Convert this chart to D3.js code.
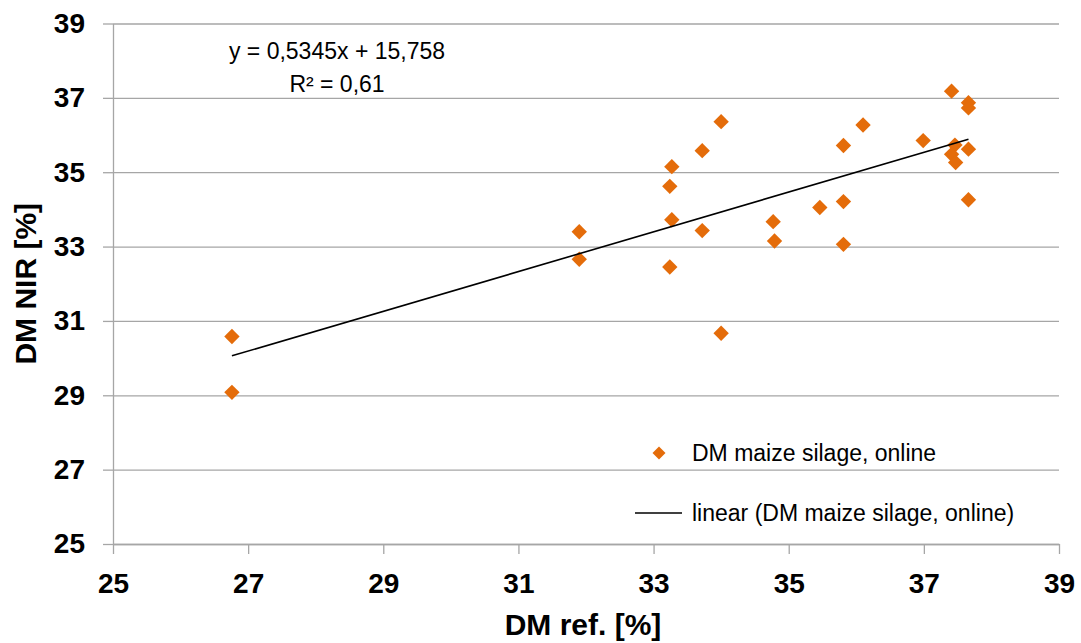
<!DOCTYPE html>
<html>
<head>
<meta charset="utf-8">
<script src="https://cdn.jsdelivr.net/npm/d3@7"></script>
<style>
  body { margin: 0; background: #fff; }
  svg { display: block; }
</style>
</head>
<body>
<svg id="chart"></svg>
<script>
var width = 1081,
    height = 643,
    margin = { top: 23.5, right: 22, bottom: 99, left: 113 }

// DM reference (x) and DM NIR online (y)
var dmRef = [26.76, 26.76, 31.90, 31.90, 33.27, 33.24, 33.27, 33.24, 33.72, 33.72,
             34.00, 34.00, 34.77, 34.79, 35.46, 35.81, 35.81, 35.81, 36.10, 36.99,
             37.41, 37.66, 37.66, 37.46, 37.66, 37.41, 37.47, 37.66]
var dmNir = [30.58, 29.08, 33.40, 32.66, 35.15, 34.62, 33.72, 32.45, 35.58, 33.43,
             36.36, 30.67, 33.67, 33.15, 34.05, 35.72, 34.21, 33.06, 36.27, 35.85,
             37.18, 36.87, 36.73, 35.73, 35.62, 35.48, 35.26, 34.26]

// linear trend as printed on the chart
var slope = 0.5345,
    intercept = 15.758
var equationLines = ["y = 0,5345x + 15,758", "R\u00b2 = 0,61"]

var xTicks = [25, 27, 29, 31, 33, 35, 37, 39]
var yTicks = [25, 27, 29, 31, 33, 35, 37, 39]
var seriesName = "DM maize silage, online"
var trendName = "linear (DM maize silage, online)"
var xTitle = "DM ref. [%]"
var yTitle = "DM NIR [%]"

var orange = "#e46c0a",
    gridColor = "#a6a6a6"

var svg = d3.select("#chart").attr("width", width).attr("height", height)
svg.append("rect").attr("width", width).attr("height", height).attr("fill", "#fff")

var innerW = width - margin.left - margin.right,
    innerH = height - margin.top - margin.bottom

var x = d3.scaleLinear().domain([25, 39]).range([0, innerW])
var y = d3.scaleLinear().domain([25, 39]).range([innerH, 0])

var g = svg.append("g").attr("transform", "translate(" + margin.left + "," + margin.top + ")")

// horizontal grid lines
g.append("g")
    .attr("class", "grid")
    .call(d3.axisLeft(y).tickValues(yTicks).tickSize(-innerW).tickFormat(""))
    .call(function(a) {
        a.select(".domain").remove()
        a.selectAll("line").attr("stroke", gridColor).attr("stroke-width", 1.3)
    })

// y axis
g.append("g")
    .call(d3.axisLeft(y).tickValues(yTicks).tickSize(10).tickSizeOuter(0).tickPadding(18))
    .call(function(a) {
        a.select(".domain").attr("stroke", gridColor).attr("stroke-width", 1.3)
        a.selectAll("line").attr("stroke", gridColor).attr("stroke-width", 1.3)
        a.selectAll("text")
            .attr("font-family", "Liberation Sans, Arial, sans-serif")
            .attr("font-weight", "bold")
            .attr("font-size", 28)
            .attr("fill", "#000")
    })

// x axis
g.append("g")
    .attr("transform", "translate(0," + innerH + ")")
    .call(d3.axisBottom(x).tickValues(xTicks).tickSize(10).tickSizeOuter(0).tickPadding(19))
    .call(function(a) {
        a.select(".domain").attr("stroke", gridColor).attr("stroke-width", 1.3)
        a.selectAll("line").attr("stroke", gridColor).attr("stroke-width", 1.3)
        a.selectAll("text")
            .attr("font-family", "Liberation Sans, Arial, sans-serif")
            .attr("font-weight", "bold")
            .attr("font-size", 28)
            .attr("fill", "#000")
    })

// axis titles
svg.append("text")
    .attr("x", 583)
    .attr("y", 635)
    .attr("text-anchor", "middle")
    .attr("font-family", "Liberation Sans, Arial, sans-serif")
    .attr("font-weight", "bold")
    .attr("font-size", 30)
    .text(xTitle)

svg.append("text")
    .attr("transform", "translate(36," + (margin.top + y(32)) + ") rotate(-90)")
    .attr("text-anchor", "middle")
    .attr("font-family", "Liberation Sans, Arial, sans-serif")
    .attr("font-weight", "bold")
    .attr("font-size", 30)
    .text(yTitle)

// points
var points = dmRef.map(function(d, i) { return { x: d, y: dmNir[i] } })
var diamond = d3.symbol().type(d3.symbolSquare).size(118)

g.selectAll(".pt")
    .data(points)
    .enter()
    .append("path")
    .attr("class", "pt")
    .attr("d", diamond)
    .attr("transform", function(d) {
        return "translate(" + x(d.x) + "," + y(d.y) + ") rotate(45)"
    })
    .attr("fill", orange)

// trend line across the data range
var xExt = d3.extent(dmRef)
var trend = xExt.map(function(v) { return [v, slope * v + intercept] })
g.append("path")
    .datum(trend)
    .attr("d", d3.line().x(function(d) { return x(d[0]) }).y(function(d) { return y(d[1]) }))
    .attr("stroke", "#000")
    .attr("stroke-width", 1.6)
    .attr("fill", "none")

// equation label
var eq = svg.append("text")
    .attr("text-anchor", "middle")
    .attr("font-family", "Liberation Sans, Arial, sans-serif")
    .attr("font-size", 23)
    .attr("fill", "#000")
eq.selectAll("tspan")
    .data(equationLines)
    .enter()
    .append("tspan")
    .attr("x", 337)
    .attr("y", function(d, i) { return 59 + i * 32.5 })
    .text(function(d) { return d })

// legend
var legend = svg.append("g")
    .attr("font-family", "Liberation Sans, Arial, sans-serif")
    .attr("font-size", 23)
legend.append("path")
    .attr("d", d3.symbol().type(d3.symbolSquare).size(85))
    .attr("transform", "translate(659,453) rotate(45)")
    .attr("fill", orange)
legend.append("text").attr("x", 692).attr("y", 461).text(seriesName)
legend.append("line")
    .attr("x1", 635).attr("x2", 682).attr("y1", 513).attr("y2", 513)
    .attr("stroke", "#000").attr("stroke-width", 1.4)
legend.append("text").attr("x", 692).attr("y", 521).text(trendName)
</script>
</body>
</html>
